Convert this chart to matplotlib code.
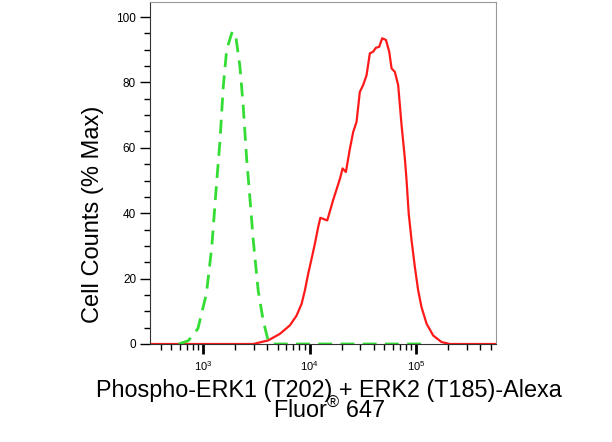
import numpy as np
import matplotlib.pyplot as plt
from matplotlib.ticker import LogLocator, NullFormatter, MultipleLocator

plt.rcParams['font.family'] = ['Liberation Sans', 'DejaVu Sans']
plt.rcParams['mathtext.fontset'] = 'custom'
plt.rcParams['mathtext.rm'] = 'Liberation Sans'
plt.rcParams['mathtext.it'] = 'Liberation Sans'

# isotype control (green dashed): log10 intensity, % max
iso_log = [2.77, 2.86, 2.95, 3.03, 3.08, 3.125, 3.157, 3.188, 3.22, 3.272,
           3.304, 3.345, 3.376, 3.407, 3.44, 3.47, 3.516, 3.563, 3.61, 3.65,
           4.0, 4.5, 5.11]
iso_val = [0, 1, 4.7, 15.4, 29.6, 49, 62, 78.6, 90, 95.5,
           94.5, 84.8, 72.5, 57, 44, 31.7, 16.4, 7.2, 1, 0,
           0, 0, 0]

# stained sample (red)
pos_log = [2.5, 3.0, 3.47, 3.61, 3.72, 3.814, 3.877, 3.924, 3.955, 3.986,
           4.018, 4.049, 4.08, 4.10, 4.165, 4.22, 4.284, 4.309, 4.34, 4.378,
           4.409, 4.44, 4.471, 4.502, 4.534, 4.565, 4.596, 4.622, 4.653, 4.681,
           4.716, 4.747, 4.769, 4.80, 4.831, 4.863, 4.894, 4.91, 4.93, 4.957,
           4.988, 5.019, 5.05, 5.098, 5.16, 5.238, 5.316, 5.5, 5.75]
pos_val = [0, 0, 0, 1.1, 3.1, 5.7, 8.7, 12.3, 16.4, 21.5,
           26.1, 30.7, 35.8, 38.6, 37.8, 44, 50.5, 53.7, 52.6, 59.8,
           64.9, 67.9, 77.1, 79.2, 82.2, 88.9, 89.4, 90.6, 90.9, 93.5,
           93, 89.4, 84.3, 83.2, 79.2, 66.9, 56.7, 50, 39.9, 31.7,
           23.5, 16.4, 11.3, 6.2, 2.6, 0.6, 0, 0, 0]

fig = plt.figure(figsize=(6.12, 4.42), dpi=100)
ax = fig.add_axes([150/612, 1 - 344/442, 346/612, 342/442])

ax.plot(10**np.array(pos_log), pos_val, color='#ff1a1a', lw=1.6)
ax.plot(10**np.array(iso_log), iso_val, color='#33dd33', lw=2.0,
        linestyle=(0, (5, 3)))

ax.set_xscale('log')
ax.set_xlim(10**2.5, 10**5.75)
ax.set_ylim(0, 104.6)

ax.xaxis.set_major_locator(LogLocator(base=10, numticks=10))
ax.xaxis.set_minor_locator(LogLocator(base=10, subs=np.arange(2, 10), numticks=20))
ax.xaxis.set_minor_formatter(NullFormatter())
ax.yaxis.set_major_locator(MultipleLocator(20))
ax.yaxis.set_minor_locator(MultipleLocator(5))

ax.tick_params(axis='x', which='major', length=7, width=2, labelsize=8, pad=4)
ax.tick_params(axis='x', which='minor', length=4, width=1)
ax.tick_params(axis='y', which='major', length=7, width=1, labelsize=8.5, pad=3)
ax.tick_params(axis='y', which='minor', length=4, width=1)

for side in ['top', 'right']:
    ax.spines[side].set_color('#999999')
for side in ['left', 'bottom']:
    ax.spines[side].set_color('#333333')

fig.text(93/612, 1 - 214/442, 'Cell Counts (% Max)', rotation=90,
         ha='center', va='center', fontsize=17)
# two-line x label; baseline of the last line
fig.text(329/612, 1 - 418/442,
         'Phospho-ERK1 (T202) + ERK2 (T185)-Alexa\n' + r'Fluor$^{\mathrm{®}}$ 647',
         ha='center', va='baseline', multialignment='center',
         linespacing=0.78, fontsize=16.8)

fig.savefig('out.png', dpi=100)
